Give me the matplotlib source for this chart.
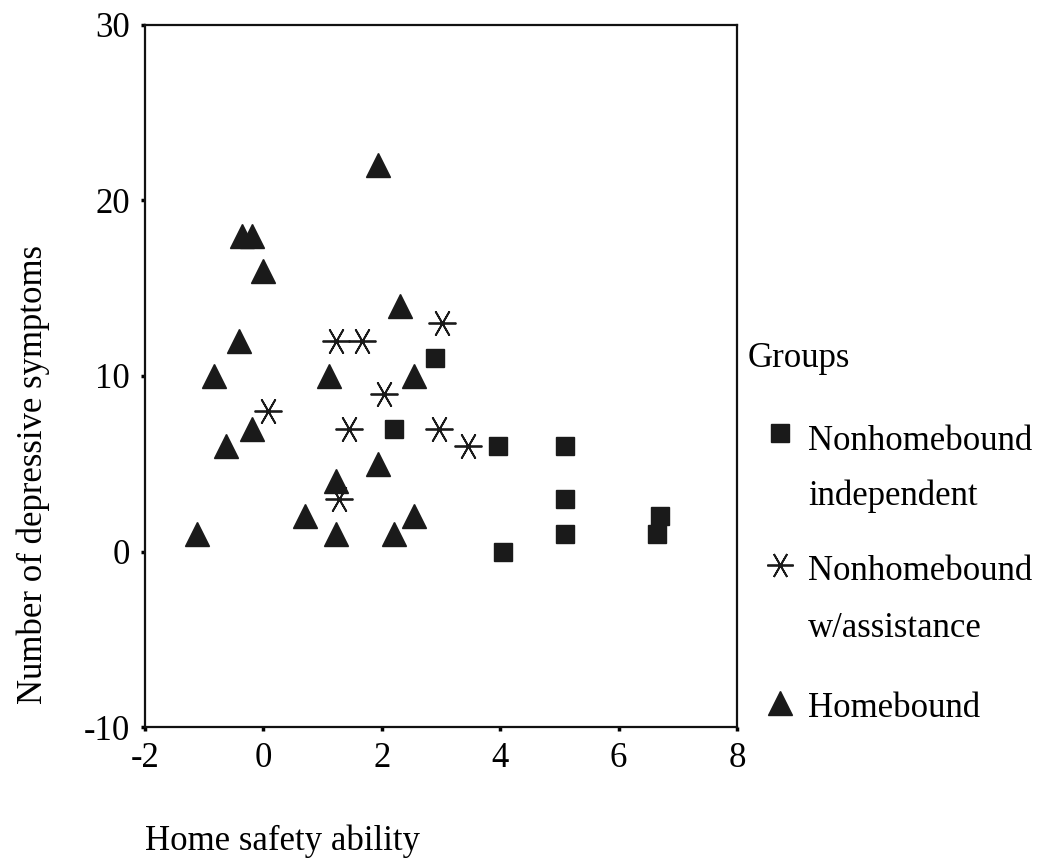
import matplotlib
matplotlib.use("Agg")
import matplotlib.pyplot as plt

# ---- data ----
indep_x = [2.9, 2.2, 3.97, 5.1, 5.1, 5.1, 4.05, 6.7, 6.65]
indep_y = [11, 7, 6, 6, 3, 1, 0, 2, 1]

assist_x = [3.02, 1.22, 1.67, 2.03, 0.07, 1.45, 2.97, 1.28, 3.46]
assist_y = [13, 12, 12, 9, 8, 7, 7, 3, 6]

home_x = [1.93, -0.36, -0.2, 0.0, 2.3, -0.41, -0.84, 1.11, 2.54,
          -0.2, -0.64, 1.93, 1.23, 0.71, 2.54, -1.12, 1.23, 2.2]
home_y = [22, 18, 18, 16, 14, 12, 10, 10, 10,
          7, 6, 5, 4, 2, 2, 1, 1, 1]

xticks = [-2, 0, 2, 4, 6, 8]
yticks = [-10, 0, 10, 20, 30]
group_labels = ["Nonhomebound\nindependent", "Nonhomebound\nw/assistance", "Homebound"]

plt.rcParams['font.family'] = ['Liberation Serif', 'DejaVu Serif']
W, H = 1042, 865
fig = plt.figure(figsize=(W / 100, H / 100), dpi=100)
ax = fig.add_axes([145 / W, 1 - 727 / H, (737 - 145) / W, (727 - 25) / H])

mcol = '#1a1a1a'
ax.plot(home_x, home_y, ls='none', marker='^', ms=17.5, color=mcol, zorder=3)
ax.plot(assist_x, assist_y, ls='none', marker=(6, 2, 90), ms=20, mew=1.3,
        color=mcol, zorder=3)
ax.plot(indep_x, indep_y, ls='none', marker='s', ms=13, color=mcol, zorder=3)

ax.set_xlim(-2, 8)
ax.set_ylim(-10, 30)
ax.set_xticks(xticks)
ax.set_yticks(yticks)
ax.set_xticklabels([str(v) for v in xticks])
ax.set_yticklabels([str(v) for v in yticks])
ax.tick_params(direction='out', length=3, width=2.5, labelsize=25, pad=8)
for s in ax.spines.values():
    s.set_linewidth(1.6)
    s.set_color('#111111')

fig.text(145 / W, 1 - 850 / H, "Home safety ability", fontsize=25,
         ha='left', va='baseline')
fig.text(33 / W, 1 - 474 / H, "Number of depressive symptoms", fontsize=25,
         rotation=90, ha='center', va='center')

# ---- legend (manual, in pixel coordinates) ----
lax = fig.add_axes([0, 0, 1, 1])
lax.set_xlim(0, W)
lax.set_ylim(H, 0)
lax.axis('off')
lax.text(748, 367, "Groups", fontsize=25, ha='left', va='baseline')
lax.plot([780], [433], ls='none', marker='s', ms=13, color=mcol)
lax.plot([780], [565], ls='none', marker=(6, 2, 90), ms=19, mew=1.3, color=mcol)
lax.plot([780], [703], ls='none', marker='^', ms=17.5, color=mcol)
lab1 = group_labels[0].split("\n")
lab2 = group_labels[1].split("\n")
lax.text(808, 450, lab1[0], fontsize=25, ha='left', va='baseline')
lax.text(808, 505, lab1[1], fontsize=25, ha='left', va='baseline')
lax.text(808, 580, lab2[0], fontsize=25, ha='left', va='baseline')
lax.text(808, 637, lab2[1], fontsize=25, ha='left', va='baseline')
lax.text(808, 717, group_labels[2], fontsize=25, ha='left', va='baseline')

fig.savefig("out.png", dpi=100)
